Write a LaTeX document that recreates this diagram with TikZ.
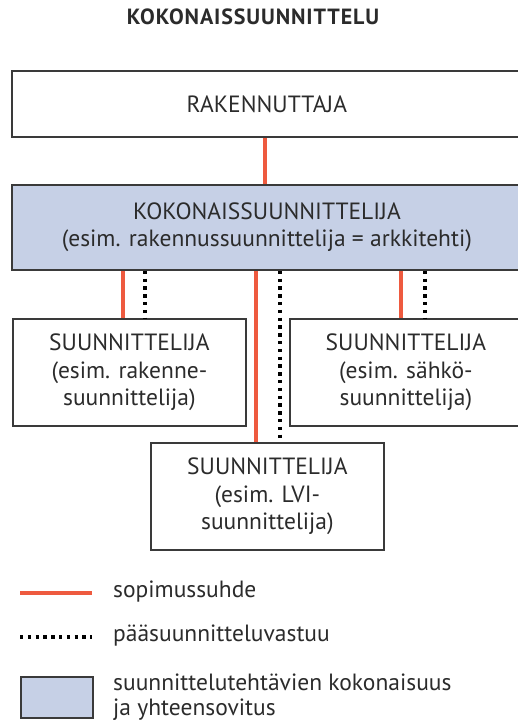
\documentclass[tikz,border=0pt]{standalone}
\usepackage{fontspec}
\setmainfont{PT Sans}
\definecolor{contract}{HTML}{EE5A3F}
\definecolor{paleblue}{HTML}{C6D0E6}
\definecolor{edge}{HTML}{3A3A3A}
\definecolor{ink}{HTML}{2B2B2B}
\begin{document}
\begin{tikzpicture}[x=1pt,y=1pt,
  box/.style={draw=edge,line width=1.8pt,rectangle,anchor=north west,inner sep=0pt,
    align=center,text=ink,font=\fontsize{23.5}{27.5}\selectfont},
  mainbox/.style={box,fill=paleblue},
  contractline/.style={draw=contract,line width=3.6pt},
  leadline/.style={draw=black,line width=3.4pt,dash pattern=on 3.4pt off 4.4pt},
  legendtext/.style={anchor=west,text=ink,align=left,inner sep=0pt,font=\fontsize{23.5}{25}\selectfont}]
\useasboundingbox (0,0) rectangle (518,722);
\clip (0,0) rectangle (518,722);

% title
\node[text=ink,font=\bfseries\fontsize{22}{24}\selectfont\addfontfeatures{LetterSpace=4}] (title) at (253,705) {KOKONAISSUUNNITTELU};

% boxes
\node[box,minimum width=510,minimum height=66] (r) at (11,652) {RAKENNUTTAJA};
\node[mainbox,minimum width=510,minimum height=85] (k) at (11,538)
  {KOKONAISSUUNNITTELIJA\\(esim. rakennussuunnittelija = arkkitehti)};
\node[box,minimum width=233,minimum height=107] (s1) at (12,404)
  {SUUNNITTELIJA\\(esim. rakenne-\\suunnittelija)};
\node[box,minimum width=232,minimum height=107] (s2) at (289,404)
  {SUUNNITTELIJA\\(esim. sähkö-\\suunnittelija)};
\node[box,minimum width=233,minimum height=107] (s3) at (150,280)
  {SUUNNITTELIJA\\(esim. LVI-\\suunnittelija)};

% connector columns
\coordinate (xr) at (265,0);
\coordinate (xa) at (123,0);
\coordinate (xb) at (145,0);
\coordinate (xc) at (256,0);
\coordinate (xd) at (280,0);
\coordinate (xe) at (401,0);
\coordinate (xf) at (425,0);

\draw[contractline] (r.south -| xr) -- (k.north -| xr);
\draw[contractline] (k.south -| xa) -- (s1.north -| xa);
\draw[leadline] (k.south -| xb) -- (s1.north -| xb);
\draw[contractline] (k.south -| xc) -- (s3.north -| xc);
\draw[leadline] (k.south -| xd) -- (s3.north -| xd);
\draw[contractline] (k.south -| xe) -- (s2.north -| xe);
\draw[leadline] (k.south -| xf) -- (s2.north -| xf);

% legend
\coordinate (l1a) at (20,129);
\coordinate (l1b) at (92,129);
\coordinate (l2a) at (20,85);
\coordinate (l2b) at (92,85);
\draw[contractline] (l1a) -- (l1b);
\draw[leadline] (l2a) -- (l2b);
\node[mainbox,minimum width=72,minimum height=41] (lbox) at (20,46) {};
\node[legendtext] (t1) at (113,130) {sopimussuhde};
\node[legendtext] (t2) at (113,86) {pääsuunnitteluvastuu};
\node[legendtext] (t3) at (113,25) {suunnittelutehtävien kokonaisuus\\ja yhteensovitus};
\end{tikzpicture}
\end{document}
